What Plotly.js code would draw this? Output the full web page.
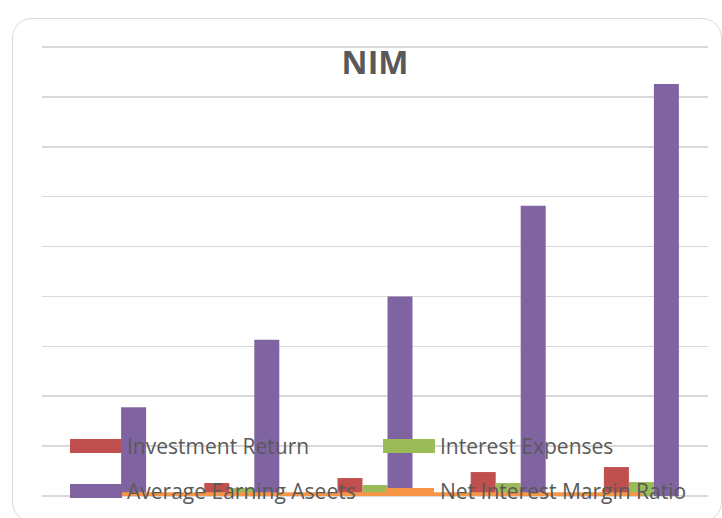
<!DOCTYPE html>
<html>
<head>
<meta charset="utf-8">
<script src="https://cdn.plot.ly/plotly-3.0.1.min.js"></script>
<style>
  html, body { margin: 0; padding: 0; background: #ffffff; }
  #wrap { position: relative; width: 722px; height: 518px; overflow: hidden; }
  #chart { position: absolute; left: 0; top: 0; width: 722px; height: 518px; }
  #frame { position: absolute; left: 12px; top: 18px; width: 708px; height: 502px;
           border: 1.5px solid #d9d9d9; border-radius: 20px; pointer-events: none; }
</style>
</head>
<body>
<div id="wrap">
  <div id="frame"></div>
  <div id="chart"></div>
</div>
<script>
// ---- data (axis units: one gridline = 100) ----
const categories = ['1', '2', '3', '4', '5'];
const investmentReturn = [16, 26, 36, 48, 58];
const interestExpenses = [10, 16, 22, 26, 28];
const avgEarningAssets = [178, 313, 400, 582, 826];
const nimRatio = [3, 3, 3, 3, 3];

const seriesNames = ['Investment Return', 'Interest Expenses', 'Average Earning Aseets', 'Net Interest Margin Ratio'];
const colors = ['#C0504D', '#9BBB59', '#8064A2', '#F79646'];

// ---- geometry helpers (pixel -> paper) ----
const W = 722, H = 518;
const M = { l: 42, r: 14, t: 45, b: 22 };
const YMAX = 904;
const PW = W - M.l - M.r, PH = H - M.t - M.b;
const px = v => (v - M.l) / PW;
const py = v => (H - M.b - v) / PH;

const traces = [
  { type: 'bar', x: categories, y: investmentReturn, name: seriesNames[0], marker: { color: colors[0] } },
  { type: 'bar', x: categories, y: interestExpenses, name: seriesNames[1], marker: { color: colors[1] } },
  { type: 'bar', x: categories, y: avgEarningAssets, name: seriesNames[2], marker: { color: colors[2] } },
  { type: 'scatter', mode: 'lines', x: categories, y: nimRatio, name: seriesNames[3],
    line: { color: colors[3], width: 4.5 } }
];

const textColor = '#595959';
const legendFont = { family: 'Open Sans, sans-serif', size: 21, color: textColor };

// manual legend (wide Excel-like swatches), overlaid on the plot
const shapes = [
  { type: 'rect', xref: 'paper', yref: 'paper', x0: px(70), x1: px(122), y0: py(453), y1: py(439),
    fillcolor: colors[0], line: { width: 0 }, layer: 'above' },
  { type: 'rect', xref: 'paper', yref: 'paper', x0: px(383), x1: px(435), y0: py(453), y1: py(439),
    fillcolor: colors[1], line: { width: 0 }, layer: 'above' },
  { type: 'rect', xref: 'paper', yref: 'paper', x0: px(70), x1: px(122), y0: py(498), y1: py(484),
    fillcolor: colors[2], line: { width: 0 }, layer: 'above' },
  { type: 'line', xref: 'paper', yref: 'paper', x0: px(385), x1: px(434), y0: py(491), y1: py(491),
    line: { color: colors[3], width: 6 }, layer: 'above' }
];

const annotations = [
  { text: seriesNames[0], x: px(125), y: py(446) },
  { text: seriesNames[1], x: px(438), y: py(446) },
  { text: seriesNames[2], x: px(125), y: py(491) },
  { text: seriesNames[3], x: px(438), y: py(491) }
].map(a => Object.assign({
  xref: 'paper', yref: 'paper', xanchor: 'left', yanchor: 'middle', showarrow: false,
  font: legendFont
}, a));

const layout = {
  width: W, height: H, autosize: false,
  margin: M,
  paper_bgcolor: 'rgba(0,0,0,0)',
  plot_bgcolor: 'rgba(0,0,0,0)',
  showlegend: false,
  barmode: 'group',
  bargap: 0.437,
  bargroupgap: 0,
  title: {
    text: '<b>NIM</b>',
    font: { family: 'Open Sans, sans-serif', size: 32, color: textColor },
    xref: 'paper', x: 0.5, xanchor: 'center',
    yref: 'container', y: 1 - 63 / H, yanchor: 'middle'
  },
  xaxis: {
    type: 'category', range: [-0.5, 4.5],
    showgrid: false, zeroline: false, showline: false, showticklabels: false, ticks: ''
  },
  yaxis: {
    range: [0, YMAX], dtick: 100, tick0: 0,
    showgrid: true, gridcolor: '#d9d9d9', gridwidth: 1.5,
    zeroline: true, zerolinecolor: '#d9d9d9', zerolinewidth: 1.5,
    showline: false, showticklabels: false, ticks: ''
  },
  shapes: shapes,
  annotations: annotations
};

Plotly.newPlot('chart', traces, layout, { staticPlot: true, displayModeBar: false });
</script>
</body>
</html>
